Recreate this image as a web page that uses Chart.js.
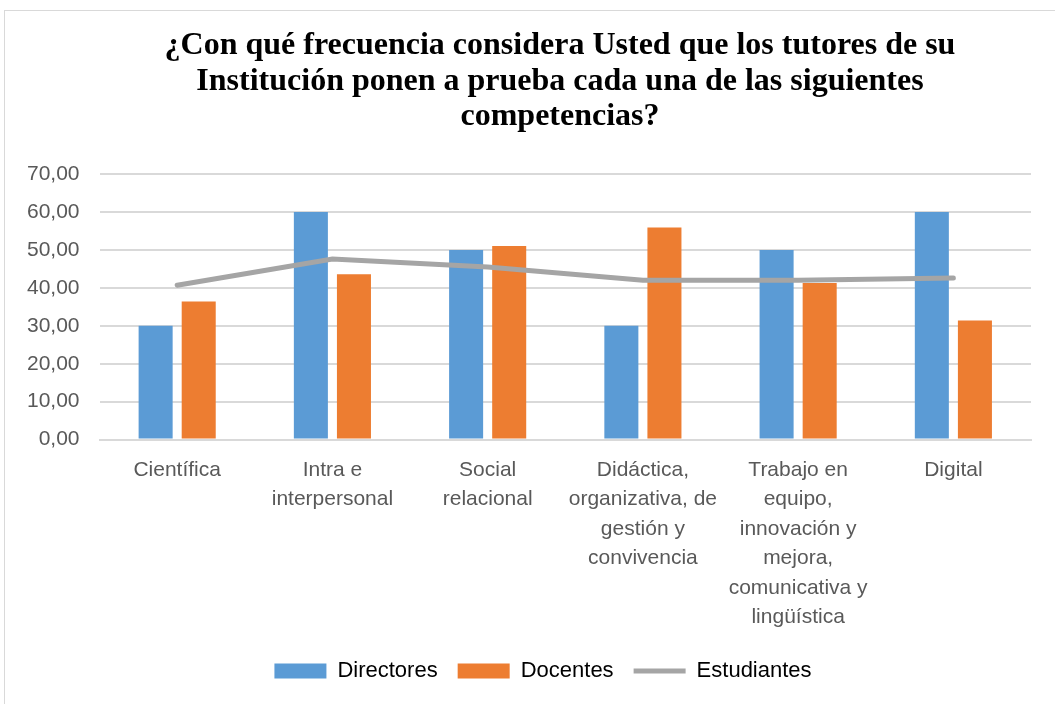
<!DOCTYPE html>
<html>
<head>
<meta charset="utf-8">
<script src="https://cdn.jsdelivr.net/npm/chart.js@4.4.1/dist/chart.umd.min.js"></script>
<style>
  html, body { margin: 0; padding: 0; background: #fff; overflow: hidden; }
  #frame { position: absolute; left: 4px; top: 10px; width: 1100px; height: 800px; border: 1px solid #d9d9d9; }
  #wrap { position: absolute; left: 0; top: 0; width: 1055px; height: 704px; }
</style>
</head>
<body>
<div id="frame"></div>
<div id="wrap"><canvas id="chart" width="1055" height="704"></canvas></div>
<script>
// data
const categories = [
    'Científica',
    ['Intra e', 'interpersonal'],
    ['Social', 'relacional'],
    ['Didáctica,', 'organizativa, de', 'gestión y', 'convivencia'],
    ['Trabajo en', 'equipo,', 'innovación y', 'mejora,', 'comunicativa y', 'lingüística'],
    'Digital'
];
const directores = [30, 60, 50, 30, 50, 60];
const docentes = [36.4, 43.6, 51.0, 55.9, 41.3, 31.4];
const estudiantes = [40.7, 47.6, 45.5, 42.0, 42.0, 42.6];
const yTicks = [0, 10, 20, 30, 40, 50, 60, 70];

const titleLines = [
    '¿Con qué frecuencia considera Usted que los tutores de su',
    'Institución ponen a prueba cada una de las siguientes',
    'competencias?'
];

const sansFont = "'Liberation Sans', Arial, sans-serif";

// title is centred a bit right of the canvas middle, so draw it by hand
const titlePlugin = {
    id: 'bigTitle',
    afterLayout(chart) {
        // legend sits a little right of centre too
        chart.legend.left += 24;
        chart.legend.right += 24;
    },
    afterDraw(chart) {
        const c = chart.ctx;
        c.save();
        c.font = "bold 32px 'Liberation Serif', 'Times New Roman', serif";
        c.fillStyle = '#000';
        c.textAlign = 'center';
        c.textBaseline = 'middle';
        titleLines.forEach((t, i) => c.fillText(t, 560, 46 + i * 35.5));
        c.restore();
    }
};

const ctx = document.getElementById('chart').getContext('2d');
new Chart(ctx, {
    type: 'bar',
    data: {
        labels: categories,
        datasets: [
            {
                label: 'Directores',
                data: directores,
                backgroundColor: '#5b9bd5',
                pointStyle: 'rect',
                order: 1,
                categoryPercentage: 0.555,
                barPercentage: 0.79
            },
            {
                label: 'Docentes',
                data: docentes,
                backgroundColor: '#ed7d31',
                pointStyle: 'rect',
                order: 1,
                categoryPercentage: 0.555,
                barPercentage: 0.79
            },
            {
                type: 'line',
                label: 'Estudiantes',
                data: estudiantes,
                borderColor: '#a5a5a5',
                backgroundColor: '#a5a5a5',
                borderWidth: 5,
                borderCapStyle: 'round',
                pointRadius: 0,
                pointStyle: 'line',
                tension: 0,
                order: 0
            }
        ]
    },
    plugins: [titlePlugin],
    options: {
        responsive: false,
        animation: false,
        layout: { padding: { left: 7, right: 24, top: 174, bottom: 12 } },
        plugins: {
            title: { display: false },
            legend: {
                position: 'bottom',
                labels: {
                    usePointStyle: true,
                    pointStyleWidth: 52,
                    boxWidth: 52,
                    boxHeight: 15,
                    color: '#000',
                    padding: 20,
                    font: { family: sansFont, size: 22 },
                    sort: (a, b) => a.datasetIndex - b.datasetIndex
                }
            },
            tooltip: { enabled: false }
        },
        scales: {
            x: {
                grid: { display: false },
                border: { display: true, color: '#d9d9d9', width: 2 },
                ticks: {
                    color: '#595959',
                    font: { family: sansFont, size: 21, lineHeight: 1.4 },
                    maxRotation: 0,
                    autoSkip: false,
                    padding: 8
                }
            },
            y: {
                min: 0,
                max: 70,
                afterBuildTicks: axis => { axis.ticks = yTicks.map(v => ({ value: v })); },
                grid: { color: '#d9d9d9', lineWidth: 2, drawTicks: false },
                border: { display: false },
                ticks: {
                    color: '#595959',
                    font: { family: sansFont, size: 21 },
                    padding: 20,
                    callback: v => v.toFixed(2).replace('.', ',')
                }
            }
        }
    }
});
</script>
</body>
</html>
